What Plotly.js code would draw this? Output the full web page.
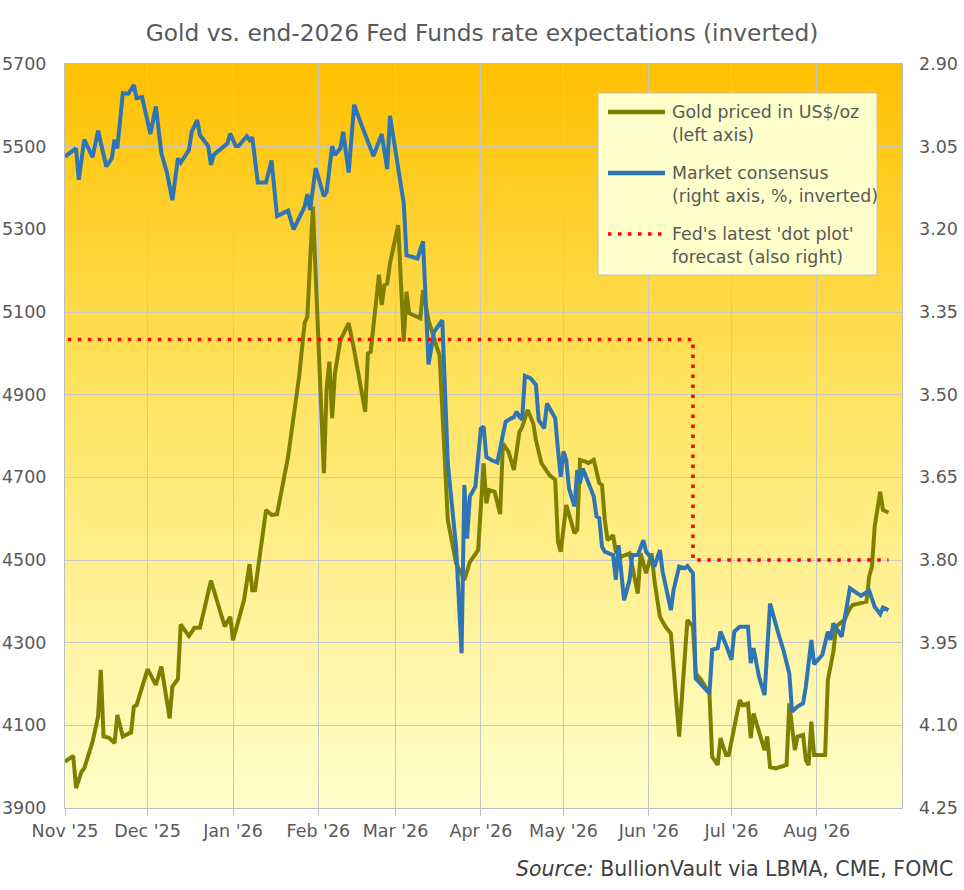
<!DOCTYPE html>
<html>
<head>
<meta charset="utf-8">
<script src="https://cdn.plot.ly/plotly-3.0.1.min.js"></script>
<style>
  html, body { margin: 0; padding: 0; background: #fff; }
  #chart { width: 964px; height: 890px; }
</style>
</head>
<body>
<div id="chart"></div>
<script>
// Gold price, US$/oz (left axis)
const goldDates = ['2025-11-01','2025-11-04','2025-11-05','2025-11-07','2025-11-08','2025-11-11','2025-11-13','2025-11-14','2025-11-15','2025-11-17',
  '2025-11-19','2025-11-20','2025-11-22','2025-11-25','2025-11-26','2025-11-27','2025-12-01','2025-12-04','2025-12-06','2025-12-09',
  '2025-12-10','2025-12-12','2025-12-13','2025-12-16','2025-12-18','2025-12-20','2025-12-24','2025-12-29','2025-12-31','2026-01-01',
  '2026-01-05','2026-01-07','2026-01-08','2026-01-09','2026-01-13','2026-01-15','2026-01-17','2026-01-21','2026-01-25','2026-01-27',
  '2026-01-28','2026-01-30','2026-02-03','2026-02-04','2026-02-05','2026-02-06','2026-02-07','2026-02-09','2026-02-12','2026-02-14',
  '2026-02-18','2026-02-19','2026-02-20','2026-02-23','2026-02-24','2026-02-25','2026-02-26','2026-02-27','2026-03-02','2026-03-04',
  '2026-03-05','2026-03-06','2026-03-10','2026-03-11','2026-03-13','2026-03-15','2026-03-16','2026-03-17','2026-03-20','2026-03-23',
  '2026-03-26','2026-03-28','2026-03-31','2026-04-02','2026-04-03','2026-04-04','2026-04-06','2026-04-08','2026-04-09','2026-04-11',
  '2026-04-13','2026-04-15','2026-04-16','2026-04-18','2026-04-20','2026-04-21','2026-04-23','2026-04-26','2026-04-28','2026-04-29',
  '2026-04-30','2026-05-02','2026-05-05','2026-05-06','2026-05-07','2026-05-09','2026-05-10','2026-05-12','2026-05-14','2026-05-15',
  '2026-05-16','2026-05-17','2026-05-19','2026-05-20','2026-05-22','2026-05-25','2026-05-27','2026-05-28','2026-05-29','2026-05-31',
  '2026-06-02','2026-06-03','2026-06-05','2026-06-07','2026-06-09','2026-06-12','2026-06-15','2026-06-17','2026-06-18','2026-06-20',
  '2026-06-23','2026-06-24','2026-06-26','2026-06-27','2026-06-29','2026-06-30','2026-07-04','2026-07-05','2026-07-07','2026-07-08',
  '2026-07-09','2026-07-11','2026-07-13','2026-07-14','2026-07-15','2026-07-17','2026-07-19','2026-07-21','2026-07-22','2026-07-24',
  '2026-07-25','2026-07-27','2026-07-28','2026-07-29','2026-07-30','2026-07-31','2026-08-04','2026-08-05','2026-08-07','2026-08-08',
  '2026-08-11','2026-08-13','2026-08-14','2026-08-16','2026-08-19','2026-08-20','2026-08-21','2026-08-22','2026-08-24','2026-08-25',
  '2026-08-27'];
const goldPrice = [4012,4026,3948,3988,3996,4060,4121,4234,4073,4070,
  4057,4125,4073,4083,4145,4149,4236,4198,4242,4117,
  4194,4212,4344,4316,4336,4336,4450,4339,4363,4306,
  4403,4490,4427,4427,4621,4609,4611,4750,4943,5073,
  5089,5355,4710,4917,4980,4843,4952,5032,5073,5008,
  4859,5000,5004,5190,5117,5165,5169,5218,5310,5028,
  5149,5097,5085,5153,5080,5032,5015,4996,4597,4492,
  4452,4495,4524,4734,4637,4669,4665,4611,4782,4762,
  4718,4810,4822,4863,4831,4790,4734,4705,4694,4544,
  4520,4633,4565,4573,4742,4738,4734,4742,4686,4681,
  4597,4548,4560,4520,4508,4516,4452,4419,4516,4468,
  4516,4452,4363,4339,4322,4073,4355,4339,4226,4210,
  4177,4024,4004,4069,4028,4028,4161,4149,4153,4069,
  4129,4081,4040,4073,3999,3996,3999,4004,4153,4040,
  4073,4077,4016,4004,4109,4028,4028,4210,4278,4339,
  4355,4383,4391,4395,4399,4460,4484,4581,4665,4621,
  4615];

// Market consensus for end-2026 Fed Funds rate, % (right axis, inverted)
const rateDates = ['2025-11-01','2025-11-05','2025-11-06','2025-11-08','2025-11-11','2025-11-13','2025-11-16','2025-11-18','2025-11-19','2025-11-20',
  '2025-11-22','2025-11-24','2025-11-26','2025-11-27','2025-11-29','2025-12-02','2025-12-04','2025-12-06','2025-12-08','2025-12-10',
  '2025-12-12','2025-12-13','2025-12-16','2025-12-17','2025-12-19','2025-12-20','2025-12-23','2025-12-24','2025-12-25','2025-12-30',
  '2025-12-31','2026-01-02','2026-01-03','2026-01-06','2026-01-07','2026-01-08','2026-01-10','2026-01-13','2026-01-15','2026-01-17',
  '2026-01-21','2026-01-23','2026-01-27','2026-01-28','2026-01-29','2026-01-31','2026-02-03','2026-02-04','2026-02-06','2026-02-07',
  '2026-02-09','2026-02-10','2026-02-12','2026-02-14','2026-02-17','2026-02-21','2026-02-24','2026-02-26','2026-02-27','2026-03-01',
  '2026-03-04','2026-03-05','2026-03-09','2026-03-11','2026-03-13','2026-03-15','2026-03-18','2026-03-20','2026-03-23','2026-03-25',
  '2026-03-26','2026-03-27','2026-03-28','2026-03-30','2026-04-01','2026-04-02','2026-04-03','2026-04-05','2026-04-07','2026-04-09',
  '2026-04-10','2026-04-12','2026-04-13','2026-04-14','2026-04-15','2026-04-16','2026-04-17','2026-04-19','2026-04-21','2026-04-22',
  '2026-04-24','2026-04-25','2026-04-28','2026-04-29','2026-04-30','2026-05-01','2026-05-02','2026-05-03','2026-05-05','2026-05-06',
  '2026-05-07','2026-05-08','2026-05-10','2026-05-12','2026-05-13','2026-05-14','2026-05-15','2026-05-16','2026-05-19','2026-05-20',
  '2026-05-21','2026-05-22','2026-05-23','2026-05-25','2026-05-26','2026-05-28','2026-05-30','2026-05-31','2026-06-02','2026-06-03',
  '2026-06-05','2026-06-06','2026-06-09','2026-06-10','2026-06-12','2026-06-14','2026-06-15','2026-06-17','2026-06-18','2026-06-23',
  '2026-06-24','2026-06-26','2026-06-27','2026-06-29','2026-07-01','2026-07-02','2026-07-04','2026-07-07','2026-07-08','2026-07-09',
  '2026-07-11','2026-07-13','2026-07-15','2026-07-18','2026-07-20','2026-07-22','2026-07-23','2026-07-25','2026-07-27','2026-07-28',
  '2026-07-30','2026-07-31','2026-08-03','2026-08-05','2026-08-06','2026-08-07','2026-08-10','2026-08-13','2026-08-16','2026-08-17',
  '2026-08-20','2026-08-22','2026-08-24','2026-08-25','2026-08-27'];
const rateExp = [3.068,3.053,3.110,3.037,3.069,3.021,3.086,3.071,3.037,3.053,
  2.953,2.954,2.938,2.962,2.960,3.027,2.977,3.062,3.097,3.147,
  3.071,3.079,3.056,3.023,3.002,3.029,3.049,3.083,3.065,3.044,
  3.026,3.049,3.049,3.031,3.038,3.033,3.115,3.115,3.075,3.176,
  3.166,3.200,3.159,3.136,3.165,3.089,3.140,3.132,3.049,3.065,
  3.053,3.023,3.097,2.974,3.015,3.067,3.027,3.091,2.994,3.056,
  3.153,3.247,3.253,3.222,3.445,3.386,3.365,3.625,3.776,3.969,
  3.664,3.761,3.685,3.667,3.562,3.558,3.613,3.619,3.623,3.573,
  3.549,3.543,3.541,3.531,3.540,3.545,3.466,3.470,3.482,3.546,
  3.561,3.516,3.543,3.600,3.649,3.603,3.619,3.670,3.703,3.637,
  3.661,3.634,3.661,3.685,3.721,3.724,3.776,3.785,3.791,3.836,
  3.773,3.824,3.873,3.836,3.791,3.791,3.764,3.785,3.797,3.812,
  3.782,3.821,3.891,3.854,3.812,3.815,3.811,3.824,4.015,4.042,
  3.963,3.960,3.930,3.954,3.981,3.930,3.921,3.921,3.987,3.960,
  4.012,4.045,3.879,3.933,3.966,4.006,4.075,4.066,4.060,4.030,
  3.945,3.989,3.972,3.930,3.945,3.915,3.939,3.851,3.860,3.865,
  3.856,3.885,3.898,3.886,3.891];

// Fed's 'dot plot' median for end-2026
const dotDates = ['2025-11-02','2026-06-17','2026-08-27'];
const dotRates = [3.40, 3.80, 3.80];

// series labels (legend)
const seriesNames = ['Gold priced in US$/oz<br>(left axis)',
  'Market consensus<br>(right axis, %, inverted)',
  "Fed's latest 'dot plot'<br>forecast (also right)"];

const GOLD = '#808000', BLUE = '#2E75B6', RED = '#FF0000';
const DOTS = '3.5px,6.5px';

const bgSvg = '<svg xmlns="http://www.w3.org/2000/svg" width="100" height="100" viewBox="0 0 100 100" preserveAspectRatio="none">' +
  '<defs><linearGradient id="g" x1="0" y1="0" x2="0" y2="1">' +
  '<stop offset="0" stop-color="#FFC000"/><stop offset="0.45" stop-color="#FFE463"/><stop offset="1" stop-color="#FFFFCC"/>' +
  '</linearGradient></defs><rect width="100" height="100" fill="url(#g)"/></svg>';

const axisFont = { family: 'DejaVu Sans, sans-serif', size: 17.5, color: '#595959' };

const traces = [
  { x: goldDates, y: goldPrice, type: 'scatter', mode: 'lines', name: seriesNames[0],
    line: { color: GOLD, width: 4 }, yaxis: 'y' },
  { x: rateDates, y: rateExp, type: 'scatter', mode: 'lines', name: seriesNames[1],
    line: { color: BLUE, width: 4 }, yaxis: 'y2' },
  { x: dotDates, y: dotRates, type: 'scatter', mode: 'lines', name: seriesNames[2],
    line: { color: RED, width: 3.5, dash: DOTS, shape: 'hv' }, yaxis: 'y2' }
];

// legend box drawn by hand so the line samples can be as long as in the original
const M = { l: 65, r: 62, t: 64, b: 82 };
const plotW = 964 - M.l - M.r, plotH = 890 - M.t - M.b;
const px = x => (x - M.l) / plotW;
const py = y => 1 - (y - M.t) / plotH;

const shapes = [{
  type: 'rect', xref: 'paper', yref: 'paper',
  x0: px(598), x1: px(877), y0: py(275), y1: py(93),
  fillcolor: '#FFFFCC', line: { color: '#BFBFBF', width: 1 }
}];
const annotations = [];
const legendStyles = [
  { color: GOLD, width: 4.5, dash: 'solid' },
  { color: BLUE, width: 4.5, dash: 'solid' },
  { color: RED, width: 3.5, dash: DOTS }
];
seriesNames.forEach((name, i) => {
  const y = 112 + i * 61;
  shapes.push({ type: 'line', xref: 'paper', yref: 'paper',
    x0: px(608), x1: px(665), y0: py(y), y1: py(y), line: legendStyles[i] });
  annotations.push({ text: name, xref: 'paper', yref: 'paper',
    x: px(670), y: py(y + 11.5), xanchor: 'left', yanchor: 'middle', align: 'left',
    showarrow: false, font: { family: 'DejaVu Sans, sans-serif', size: 17.4, color: '#595959' } });
});
annotations.push({
  text: '<i>Source:</i> BullionVault via LBMA, CME, FOMC',
  xref: 'paper', yref: 'paper', x: px(955), y: py(869),
  xanchor: 'right', yanchor: 'middle', showarrow: false,
  font: { family: 'DejaVu Sans, sans-serif', size: 20.5, color: '#404040' }
});

const layout = {
  width: 964, height: 890,
  margin: M,
  paper_bgcolor: '#ffffff',
  plot_bgcolor: 'rgba(0,0,0,0)',
  showlegend: false,
  title: {
    text: 'Gold vs. end-2026 Fed Funds rate expectations (inverted)',
    x: 0.5, xanchor: 'center', y: 0.963, yanchor: 'middle',
    font: { family: 'DejaVu Sans, sans-serif', size: 23.3, color: '#595959' }
  },
  images: [{
    source: 'data:image/svg+xml;charset=utf-8,' + encodeURIComponent(bgSvg),
    xref: 'paper', yref: 'paper', x: 0, y: 1, sizex: 1, sizey: 1,
    xanchor: 'left', yanchor: 'top', sizing: 'stretch', layer: 'below'
  }],
  xaxis: {
    type: 'date', range: ['2025-11-01', '2026-08-31 22:00'],
    tick0: '2025-11-01', dtick: 'M1', tickformat: "%b '%y",
    ticks: 'outside', ticklen: 7, tickcolor: '#BFBFBF',
    showgrid: true, gridcolor: '#C8C8C8', gridwidth: 1,
    showline: true, linecolor: '#BFBFBF', linewidth: 1, mirror: true,
    tickfont: axisFont, zeroline: false
  },
  yaxis: {
    range: [3900, 5700], tick0: 3900, dtick: 200,
    showgrid: true, gridcolor: '#C8C8C8', gridwidth: 1,
    showline: true, linecolor: '#BFBFBF', mirror: true,
    ticks: '', ticklabelstandoff: 14,
    tickfont: axisFont, zeroline: false
  },
  yaxis2: {
    overlaying: 'y', side: 'right',
    range: [4.25, 2.90], tick0: 2.90, dtick: 0.15, tickformat: '.2f',
    showgrid: false, zeroline: false, showline: false,
    ticks: '', ticklabelstandoff: 16,
    tickfont: axisFont
  },
  shapes: shapes,
  annotations: annotations
};

Plotly.newPlot('chart', traces, layout, { displayModeBar: false, staticPlot: true });
</script>
</body>
</html>
